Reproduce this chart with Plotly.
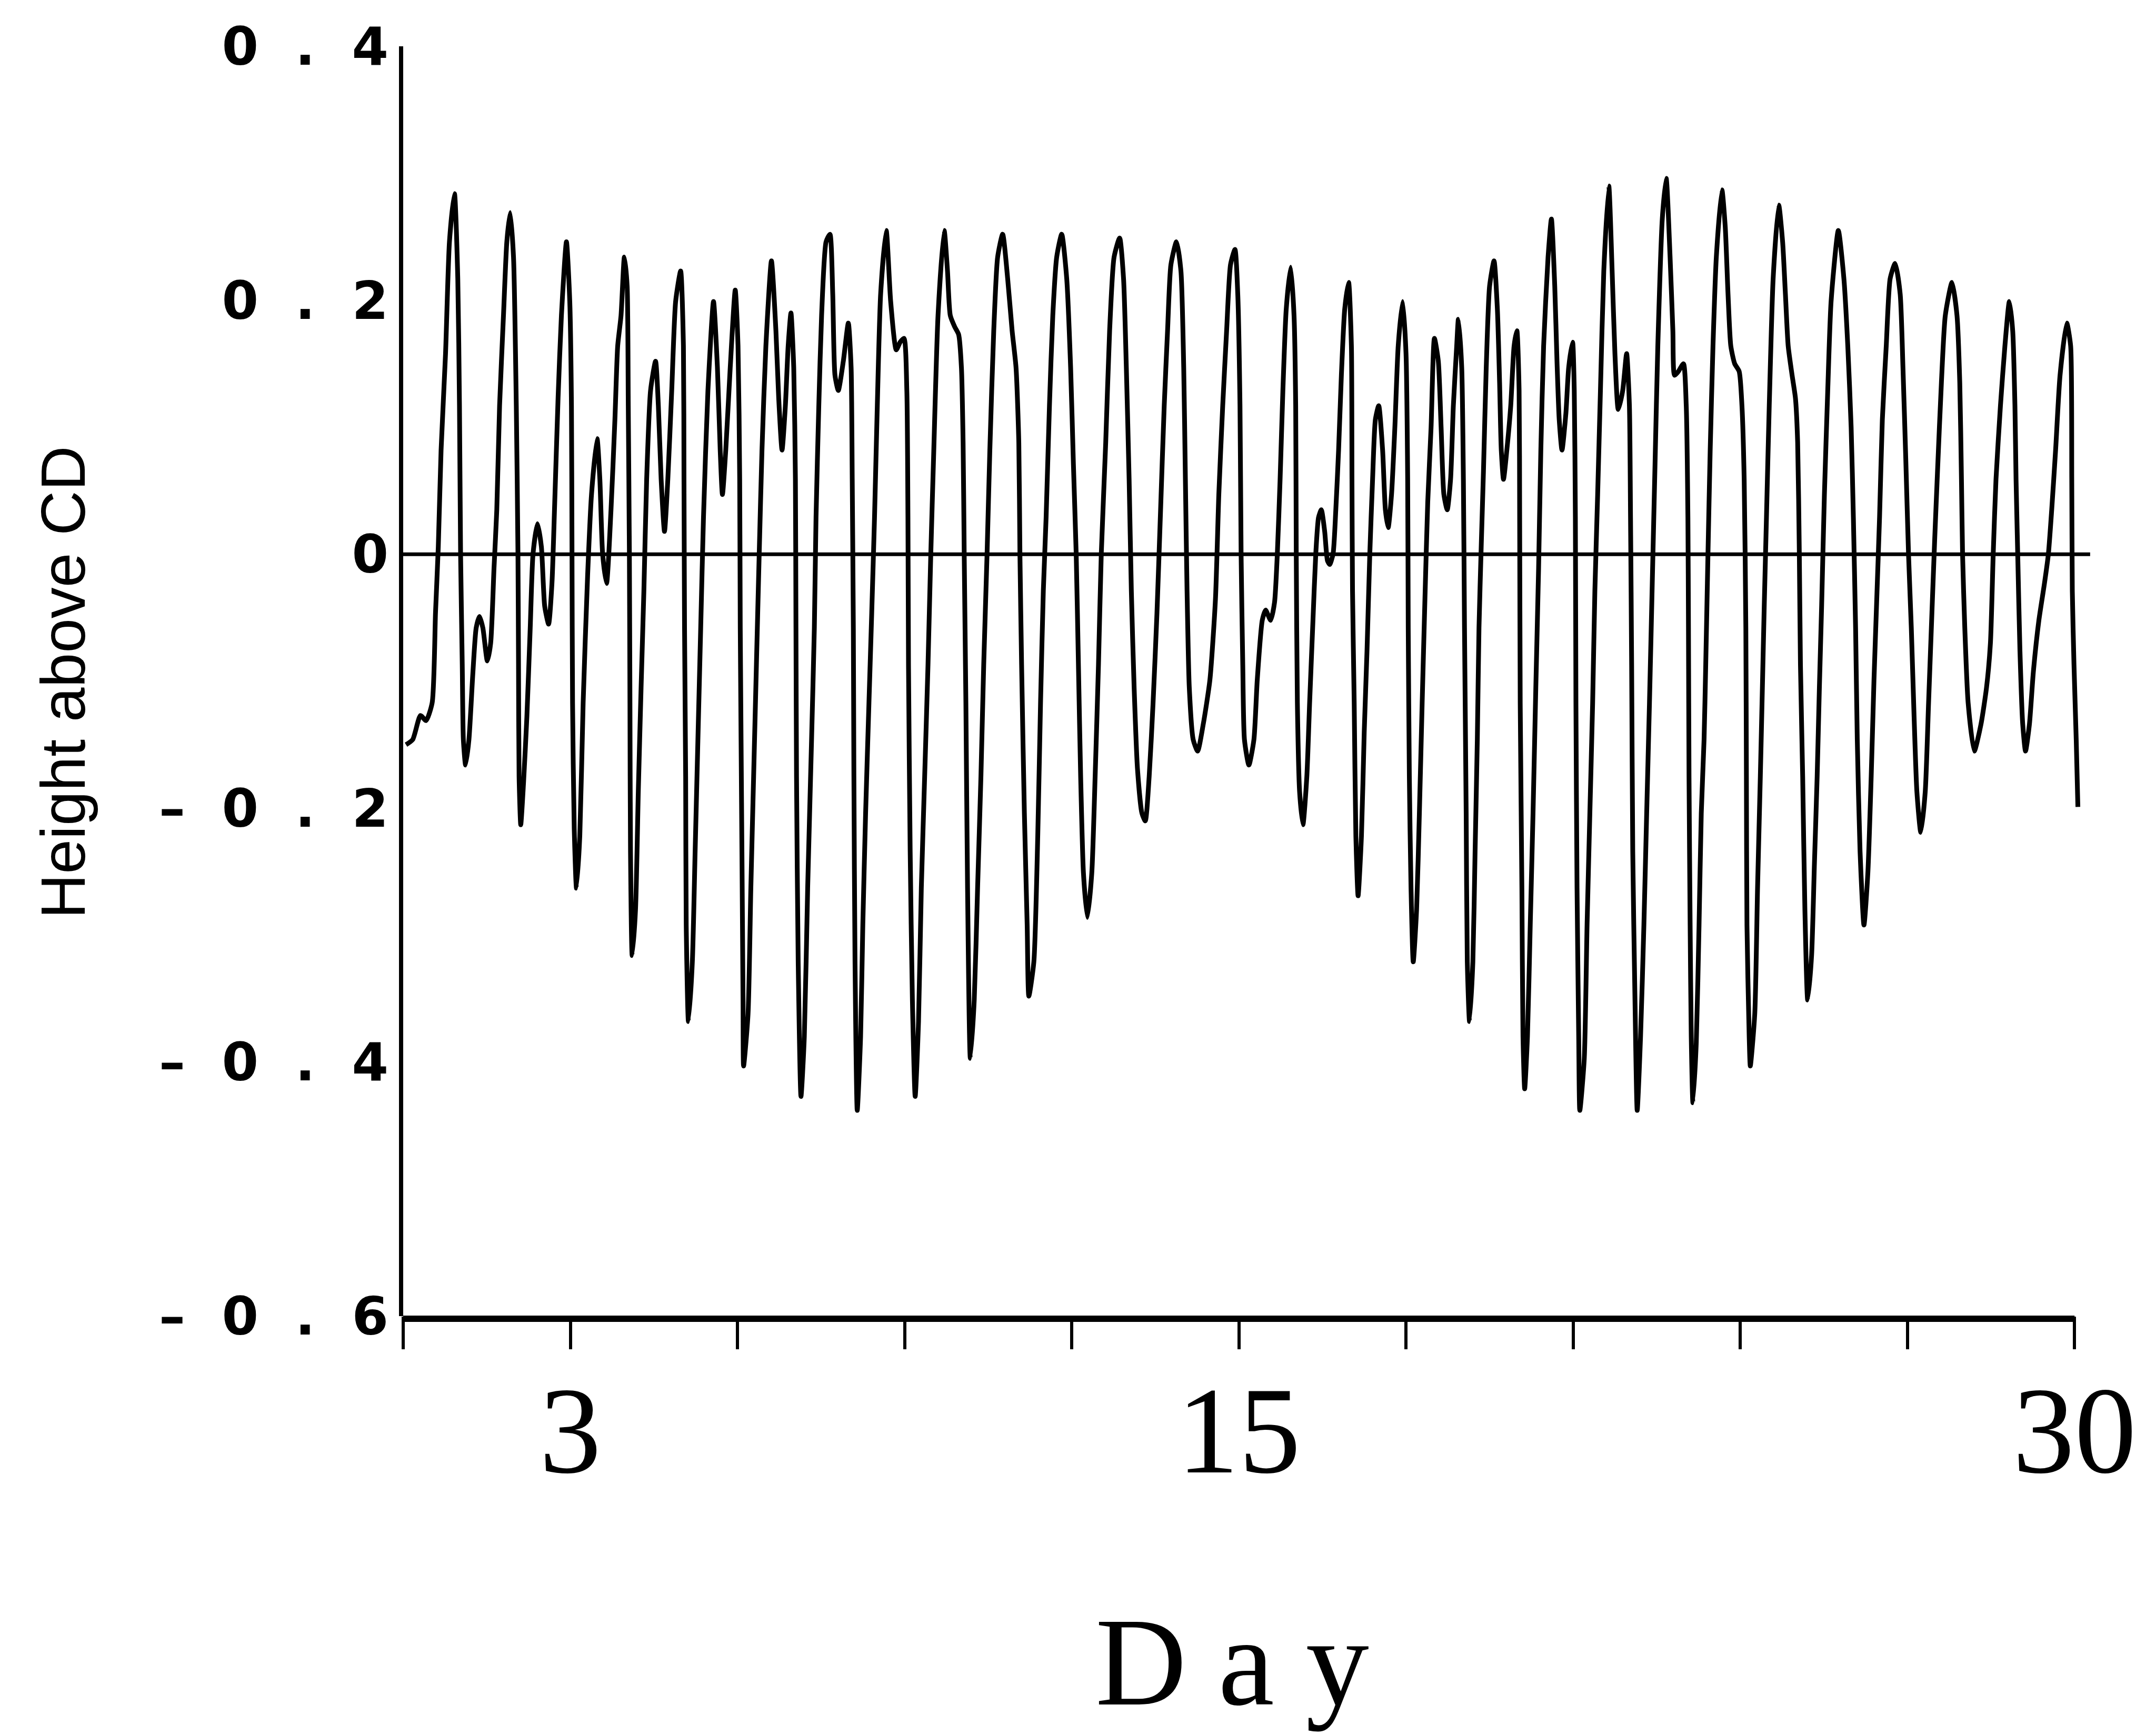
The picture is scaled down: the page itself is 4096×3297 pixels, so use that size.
import plotly.graph_objects as go

# ---------------- data (day, height above CD) ----------------
tide_days_0_4 = [
    (0.05, -0.150), (0.17, -0.146), (0.31, -0.127), (0.41, -0.131), (0.52, -0.117),
    (0.58, -0.046), (0.63, 0.006), (0.68, 0.082), (0.76, 0.158), (0.83, 0.246),
    (0.92, 0.284), (0.98, 0.217), (1.01, 0.117), (1.03, 0.000), (1.06, -0.087),
    (1.08, -0.146), (1.12, -0.166), (1.18, -0.146), (1.25, -0.094), (1.31, -0.058),
    (1.37, -0.049), (1.43, -0.058), (1.51, -0.084), (1.57, -0.070), (1.63, -0.011),
    (1.68, 0.035), (1.73, 0.117), (1.80, 0.188), (1.86, 0.246), (1.92, 0.269),
    (1.98, 0.234), (2.03, 0.117), (2.06, 0.000), (2.07, -0.087), (2.08, -0.175),
    (2.11, -0.213), (2.16, -0.180), (2.22, -0.128), (2.28, -0.058), (2.33, 0.000),
    (2.41, 0.024), (2.48, 0.006), (2.54, -0.041), (2.61, -0.055), (2.67, -0.023),
    (2.72, 0.041), (2.78, 0.123), (2.84, 0.188), (2.93, 0.246), (2.99, 0.199),
    (3.02, 0.117), (3.03, 0.000), (3.04, -0.117), (3.07, -0.216), (3.11, -0.263),
    (3.17, -0.222), (3.23, -0.117), (3.31, -0.017), (3.38, 0.047), (3.48, 0.091),
    (3.53, 0.059), (3.58, 0.000), (3.65, -0.023), (3.73, 0.035), (3.80, 0.106),
    (3.85, 0.164),
]
tide_days_4_8 = [
    (3.91, 0.188), (3.97, 0.234), (4.02, 0.211), (4.04, 0.117), (4.06, 0.000),
    (4.07, -0.117), (4.08, -0.234), (4.11, -0.316), (4.17, -0.280), (4.22, -0.187),
    (4.27, -0.105), (4.32, -0.029), (4.37, 0.059), (4.44, 0.129), (4.53, 0.152),
    (4.58, 0.117), (4.63, 0.059), (4.69, 0.018), (4.75, 0.059), (4.82, 0.129),
    (4.89, 0.199), (4.98, 0.223), (5.03, 0.164), (5.04, 0.059), (5.05, -0.058),
    (5.07, -0.175), (5.08, -0.292), (5.12, -0.368), (5.19, -0.321), (5.24, -0.234),
    (5.29, -0.146), (5.34, -0.058), (5.39, 0.029), (5.47, 0.129), (5.57, 0.199),
    (5.64, 0.147), (5.69, 0.082), (5.73, 0.047), (5.79, 0.082), (5.87, 0.147),
    (5.96, 0.208), (6.01, 0.164), (6.04, 0.059), (6.05, -0.058), (6.08, -0.234),
    (6.10, -0.351), (6.11, -0.403), (6.19, -0.362), (6.24, -0.263), (6.29, -0.175),
    (6.34, -0.087), (6.39, 0.000), (6.44, 0.082), (6.51, 0.164), (6.61, 0.231),
    (6.69, 0.176), (6.74, 0.123), (6.80, 0.082), (6.86, 0.117), (6.91, 0.164),
    (6.96, 0.190), (7.01, 0.147), (7.04, 0.059), (7.05, -0.058), (7.06, -0.175),
    (7.09, -0.321), (7.14, -0.427), (7.20, -0.380), (7.26, -0.263), (7.33, -0.146),
    (7.38, -0.058), (7.41, 0.029), (7.46, 0.117), (7.51, 0.188), (7.59, 0.246),
]
tide_days_8_11 = [
    (7.66, 0.252), (7.71, 0.205), (7.75, 0.141), (7.81, 0.129), (7.90, 0.152),
    (7.99, 0.182), (8.04, 0.147), (8.06, 0.059), (8.08, -0.058), (8.09, -0.175),
    (8.11, -0.321), (8.15, -0.438), (8.21, -0.380), (8.25, -0.292), (8.30, -0.204),
    (8.36, -0.117), (8.41, -0.046), (8.46, 0.029), (8.51, 0.117), (8.57, 0.205),
    (8.67, 0.255), (8.75, 0.199), (8.85, 0.161), (8.92, 0.167), (8.99, 0.170),
    (9.04, 0.129), (9.06, 0.029), (9.07, -0.087), (9.10, -0.234), (9.14, -0.351),
    (9.19, -0.427), (9.25, -0.368), (9.30, -0.263), (9.36, -0.175), (9.42, -0.087),
    (9.47, 0.000), (9.52, 0.076), (9.60, 0.188), (9.71, 0.255), (9.77, 0.223),
    (9.82, 0.188), (9.90, 0.179), (9.97, 0.173), (10.02, 0.147), (10.05, 0.088),
    (10.07, 0.000), (10.10, -0.117), (10.13, -0.263), (10.18, -0.397), (10.25, -0.351),
    (10.31, -0.263), (10.37, -0.175), (10.42, -0.087), (10.48, 0.000), (10.53, 0.082),
    (10.60, 0.176), (10.67, 0.234), (10.76, 0.252), (10.85, 0.217), (10.93, 0.176),
    (11.00, 0.147), (11.05, 0.088), (11.07, 0.000), (11.10, -0.087), (11.15, -0.204),
    (11.20, -0.292), (11.23, -0.348),
]
tide_days_11_15 = [
    (11.32, -0.321), (11.39, -0.222), (11.44, -0.117), (11.49, -0.029), (11.54, 0.029),
    (11.60, 0.117), (11.66, 0.188), (11.73, 0.234), (11.82, 0.252), (11.91, 0.217),
    (11.98, 0.147), (12.03, 0.071), (12.08, 0.000), (12.12, -0.087), (12.16, -0.175),
    (12.21, -0.251), (12.28, -0.286), (12.36, -0.251), (12.42, -0.175), (12.48, -0.087),
    (12.53, 0.000), (12.61, 0.088), (12.68, 0.176), (12.76, 0.234), (12.86, 0.249),
    (12.93, 0.217), (12.98, 0.147), (13.03, 0.059), (13.07, -0.029), (13.12, -0.105),
    (13.18, -0.169), (13.26, -0.204), (13.32, -0.210), (13.39, -0.175), (13.46, -0.117),
    (13.53, -0.046), (13.59, 0.029), (13.66, 0.117), (13.72, 0.176), (13.78, 0.228),
    (13.88, 0.246), (13.96, 0.223), (14.01, 0.147), (14.04, 0.059), (14.07, -0.029),
    (14.11, -0.105), (14.18, -0.146), (14.26, -0.155), (14.36, -0.134), (14.48, -0.099),
    (14.58, -0.035), (14.64, 0.047), (14.71, 0.117), (14.78, 0.176), (14.85, 0.228),
    (14.93, 0.240), (14.98, 0.205), (15.02, 0.117), (15.04, 0.000), (15.07, -0.087),
    (15.10, -0.146),
]
tide_days_15_19 = [
    (15.18, -0.166), (15.27, -0.146), (15.33, -0.099), (15.42, -0.052), (15.48, -0.044),
    (15.57, -0.052), (15.64, -0.038), (15.69, 0.000), (15.74, 0.059), (15.79, 0.129),
    (15.85, 0.193), (15.93, 0.226), (15.99, 0.188), (16.02, 0.117), (16.03, 0.000),
    (16.05, -0.117), (16.09, -0.187), (16.15, -0.213), (16.22, -0.175), (16.27, -0.117),
    (16.33, -0.052), (16.38, 0.000), (16.43, 0.029), (16.48, 0.035), (16.54, 0.018),
    (16.59, -0.005), (16.63, -0.008), (16.69, 0.000), (16.74, 0.035), (16.79, 0.082),
    (16.84, 0.141), (16.90, 0.193), (16.97, 0.214), (17.02, 0.164), (17.03, 0.059),
    (17.04, -0.029), (17.07, -0.117), (17.10, -0.222), (17.14, -0.269), (17.20, -0.222),
    (17.25, -0.140), (17.30, -0.076), (17.35, 0.000), (17.40, 0.059), (17.45, 0.106),
    (17.51, 0.117), (17.58, 0.082), (17.63, 0.035), (17.68, 0.021), (17.74, 0.047),
    (17.80, 0.100), (17.86, 0.164), (17.94, 0.199), (18.00, 0.158), (18.03, 0.059),
    (18.04, -0.058), (18.06, -0.175), (18.09, -0.263), (18.13, -0.321), (18.19, -0.280),
    (18.24, -0.204), (18.29, -0.117), (18.34, -0.035), (18.39, 0.041), (18.45, 0.100),
    (18.51, 0.170), (18.58, 0.152), (18.63, 0.100), (18.68, 0.047), (18.74, 0.035),
    (18.80, 0.059), (18.85, 0.117), (18.91, 0.164),
]
tide_days_19_23 = [
    (18.94, 0.185), (19.00, 0.147), (19.03, 0.059), (19.05, -0.058), (19.08, -0.204),
    (19.10, -0.321), (19.14, -0.368), (19.20, -0.321), (19.24, -0.234), (19.28, -0.146),
    (19.31, -0.058), (19.35, 0.006), (19.39, 0.065), (19.44, 0.147), (19.50, 0.211),
    (19.58, 0.231), (19.64, 0.193), (19.68, 0.135), (19.71, 0.082), (19.75, 0.059),
    (19.81, 0.082), (19.88, 0.117), (19.94, 0.164), (19.99, 0.176), (20.03, 0.129),
    (20.04, 0.029), (20.05, -0.117), (20.08, -0.263), (20.10, -0.380), (20.13, -0.421),
    (20.18, -0.380), (20.23, -0.292), (20.28, -0.204), (20.33, -0.105), (20.38, -0.011),
    (20.42, 0.082), (20.47, 0.164), (20.55, 0.234), (20.61, 0.264), (20.67, 0.211),
    (20.71, 0.152), (20.75, 0.106), (20.80, 0.082), (20.87, 0.111), (20.92, 0.147),
    (20.99, 0.167), (21.02, 0.129), (21.04, 0.029), (21.05, -0.117), (21.07, -0.263),
    (21.10, -0.380), (21.12, -0.438), (21.20, -0.397), (21.25, -0.292), (21.30, -0.204),
    (21.35, -0.117), (21.39, -0.029), (21.44, 0.047), (21.49, 0.129), (21.55, 0.223),
    (21.64, 0.290), (21.70, 0.223), (21.75, 0.158), (21.81, 0.114), (21.89, 0.129),
    (21.96, 0.158), (22.01, 0.117), (22.03, 0.029), (22.05, -0.087), (22.07, -0.234),
    (22.11, -0.351), (22.15, -0.438), (22.21, -0.380), (22.27, -0.292), (22.32, -0.204),
    (22.37, -0.117), (22.42, -0.023), (22.47, 0.071), (22.52, 0.164), (22.60, 0.264),
    (22.67, 0.296),
]
tide_days_23_27 = [
    (22.74, 0.234), (22.79, 0.176), (22.82, 0.141), (22.89, 0.144), (22.98, 0.150),
    (23.03, 0.117), (23.06, 0.029), (23.07, -0.058), (23.08, -0.175), (23.10, -0.292),
    (23.12, -0.380), (23.15, -0.432), (23.21, -0.385), (23.26, -0.292), (23.30, -0.204),
    (23.35, -0.146), (23.38, -0.087), (23.42, 0.000), (23.46, 0.082), (23.51, 0.164),
    (23.57, 0.234), (23.67, 0.287), (23.73, 0.258), (23.78, 0.205), (23.83, 0.164),
    (23.90, 0.150), (23.98, 0.144), (24.03, 0.117), (24.07, 0.059), (24.10, -0.058),
    (24.11, -0.175), (24.12, -0.292), (24.16, -0.380), (24.18, -0.403), (24.26, -0.362),
    (24.31, -0.263), (24.36, -0.175), (24.40, -0.099), (24.43, -0.041), (24.47, 0.029),
    (24.52, 0.117), (24.59, 0.217), (24.69, 0.275), (24.76, 0.246), (24.81, 0.205),
    (24.86, 0.164), (24.93, 0.141), (24.99, 0.123), (25.03, 0.088), (25.06, 0.000),
    (25.08, -0.087), (25.12, -0.175), (25.16, -0.280), (25.21, -0.351), (25.28, -0.316),
    (25.33, -0.245), (25.38, -0.175), (25.42, -0.105), (25.46, -0.041), (25.51, 0.047),
    (25.57, 0.129), (25.63, 0.199), (25.76, 0.255), (25.86, 0.217), (25.93, 0.164),
    (25.99, 0.100), (26.03, 0.029), (26.07, -0.058), (26.10, -0.146), (26.15, -0.234),
    (26.22, -0.292), (26.29, -0.251), (26.35, -0.175), (26.40, -0.099), (26.45, -0.035),
    (26.50, 0.029), (26.55, 0.106),
]
tide_days_27_30 = [
    (26.62, 0.164), (26.69, 0.217), (26.78, 0.229), (26.87, 0.205), (26.92, 0.147),
    (26.97, 0.076), (27.02, 0.000), (27.07, -0.058), (27.12, -0.128), (27.17, -0.187),
    (27.24, -0.219), (27.32, -0.187), (27.38, -0.117), (27.44, -0.046), (27.49, 0.012),
    (27.54, 0.065), (27.61, 0.135), (27.68, 0.188), (27.80, 0.214), (27.89, 0.188),
    (27.94, 0.135), (27.97, 0.059), (27.99, 0.000), (28.03, -0.058), (28.09, -0.117),
    (28.20, -0.155), (28.32, -0.134), (28.42, -0.105), (28.49, -0.070), (28.54, 0.000),
    (28.59, 0.059), (28.67, 0.117), (28.75, 0.164), (28.83, 0.199), (28.89, 0.176),
    (28.93, 0.117), (28.95, 0.059), (28.98, 0.000), (29.02, -0.076), (29.07, -0.134),
    (29.12, -0.155), (29.19, -0.134), (29.26, -0.093), (29.36, -0.052), (29.46, -0.023),
    (29.53, 0.000), (29.59, 0.035), (29.66, 0.082), (29.74, 0.141), (29.86, 0.182),
    (29.93, 0.164), (29.95, 0.059), (29.96, -0.029), (29.99, -0.087), (30.03, -0.146),
    (30.06, -0.199),
]

SEGMENTS = [tide_days_0_4, tide_days_4_8, tide_days_8_11, tide_days_11_15,
            tide_days_15_19, tide_days_19_23, tide_days_23_27, tide_days_27_30]

CHART_DATUM_X = [0.0, 30.28]      # horizontal reference line at height 0
CHART_DATUM_Y = [0.0, 0.0]

X_TICKS = [0, 3, 6, 9, 12, 15, 18, 21, 24, 27, 30]
X_TICK_TEXT = ["", "3", "", "", "", "15", "", "", "", "", "30"]
Y_TICKS = [0.4, 0.2, 0.0, -0.2, -0.4, -0.6]
Y_TICK_TEXT = ["0.4", "0.2", "0", "-0.2", "-0.4", "-0.6"]
X_RANGE = [0, 30.3]
Y_RANGE = [-0.6, 0.4]
X_AXIS_END = 30

X_TITLE = "D a y"
Y_TITLE = "Height above CD"

# ---------------- build ----------------
days = [p[0] for seg in SEGMENTS for p in seg]
heights = [p[1] for seg in SEGMENTS for p in seg]

NB = "\u00a0"


def spaced(label):
    sign = ""
    if label.startswith("-"):
        sign = "\u2013" + NB * 2
        label = label[1:]
    if "." in label:
        a, b = label.split(".")
        return sign + a + NB * 2 + "." + NB * 2 + b
    return sign + label


W, H = 4096, 3297
L, R, T, B = 766, 123, 88, 796
plot_w = W - L - R
plot_h = H - T - B


def px_x(px):
    return (px - L) / plot_w


def px_y(py):
    return (H - B - py) / plot_h


fig = go.Figure()
fig.add_trace(go.Scatter(x=CHART_DATUM_X, y=CHART_DATUM_Y, mode="lines",
                         line=dict(color="black", width=7), hoverinfo="skip"))
fig.add_trace(go.Scatter(x=days, y=heights, mode="lines",
                         line=dict(color="black", width=9, shape="spline", smoothing=0.6),
                         hoverinfo="skip"))

fig.update_layout(
    width=W, height=H,
    margin=dict(l=L, r=R, t=T, b=B, pad=0),
    paper_bgcolor="white", plot_bgcolor="white",
    showlegend=False,
)
fig.update_xaxes(
    range=X_RANGE, tickmode="array", tickvals=X_TICKS, ticktext=X_TICK_TEXT,
    ticks="outside", ticklen=62, tickwidth=6, tickcolor="black",
    showline=False, showgrid=False, zeroline=False,
    tickfont=dict(family="Liberation Serif, Times New Roman, serif", size=235, color="black"),
    ticklabelstandoff=-48,
)
fig.update_yaxes(
    range=Y_RANGE, tickmode="array", tickvals=Y_TICKS,
    ticktext=[spaced(t) for t in Y_TICK_TEXT],
    ticks="", showline=True, linewidth=8, linecolor="black",
    showgrid=False, zeroline=False,
    tickfont=dict(family="DejaVu Sans, sans-serif", size=100, color="black", weight="bold"),
    ticklabelstandoff=0,
)
# bottom axis line (stops at day 30)
fig.add_shape(type="line", xref="paper", yref="paper",
              x0=0, x1=X_AXIS_END / X_RANGE[1], y0=-5 / plot_h, y1=-5 / plot_h,
              line=dict(color="black", width=12))

fig.add_annotation(text=X_TITLE, xref="paper", yref="paper",
                   x=px_x(2341), y=px_y(3158), xanchor="center", yanchor="middle",
                   showarrow=False,
                   font=dict(family="Liberation Serif, Times New Roman, serif", size=240, color="black"))
fig.add_annotation(text=Y_TITLE, xref="paper", yref="paper",
                   x=px_x(120), y=px_y(1297), xanchor="center", yanchor="middle",
                   textangle=-90, showarrow=False,
                   font=dict(family="Liberation Sans Narrow, Arial Narrow, Liberation Sans, sans-serif",
                             size=118, color="black"))

fig.write_html("out.html")
